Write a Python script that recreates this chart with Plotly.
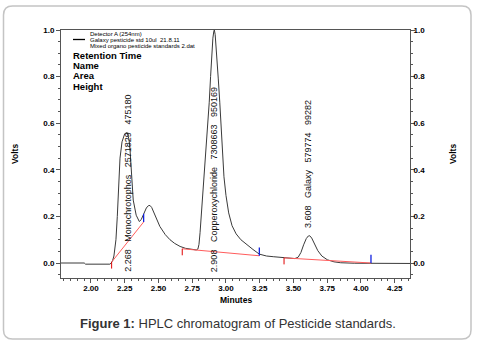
import plotly.graph_objects as go

# ---------------- data ----------------
time_min = [1.778, 1.950, 1.960, 2.140, 2.150, 2.160, 2.170, 2.185, 2.195, 2.205,
            2.215, 2.230, 2.250, 2.268, 2.282, 2.290, 2.296, 2.305, 2.313, 2.335,
            2.358, 2.372, 2.390, 2.410, 2.425, 2.437, 2.450, 2.470, 2.490, 2.510,
            2.550, 2.585, 2.620, 2.660, 2.700, 2.740, 2.780, 2.792, 2.800, 2.808,
            2.817, 2.828, 2.840, 2.852, 2.865, 2.876, 2.886, 2.895, 2.903, 2.910,
            2.914, 2.920, 2.927, 2.933, 2.943, 2.954, 2.963, 2.972, 2.985, 3.000,
            3.020, 3.045, 3.075, 3.110, 3.150, 3.200, 3.247, 3.300, 3.350, 3.420,
            3.470, 3.510, 3.535, 3.555, 3.575, 3.595, 3.610, 3.620, 3.635, 3.655,
            3.680, 3.710, 3.750, 3.800, 3.850, 3.950, 4.070, 4.200, 4.363]
volts = [0.000, 0.000, -0.005, -0.005, 0.000, 0.010, 0.030, 0.100, 0.200, 0.350,
         0.450, 0.520, 0.555, 0.560, 0.530, 0.480, 0.430, 0.340, 0.270, 0.205,
         0.178, 0.186, 0.210, 0.236, 0.246, 0.247, 0.238, 0.212, 0.182, 0.157,
         0.122, 0.100, 0.084, 0.071, 0.063, 0.058, 0.056, 0.060, 0.080, 0.130,
         0.200, 0.300, 0.400, 0.490, 0.600, 0.690, 0.800, 0.900, 0.965, 0.995,
         1.000, 0.980, 0.930, 0.880, 0.790, 0.690, 0.580, 0.470, 0.370, 0.290,
         0.215, 0.160, 0.125, 0.100, 0.080, 0.058, 0.038, 0.030, 0.027, 0.024,
         0.020, 0.019, 0.025, 0.045, 0.078, 0.105, 0.116, 0.117, 0.107, 0.083,
         0.053, 0.030, 0.014, 0.005, 0.001, -0.001, -0.002, -0.002, -0.002]

# integration baselines (start / end of each integrated region)
base_start_t = [2.153, 2.676, 3.430]
base_start_v = [0.004, 0.061, 0.022]
base_end_t = [2.390, 3.247, 4.074]
base_end_v = [0.176, 0.031, 0.000]

# peak table
peak_rt = [2.268, 2.908, 3.608]
peak_name = ["Monochrotophos", "Copperoxychloride", "Galaxy"]
peak_area = [2571829, 7308663, 579774]
peak_height = [475180, 950169, 99282]

x_ticks = [2.00, 2.25, 2.50, 2.75, 3.00, 3.25, 3.50, 3.75, 4.00, 4.25]
y_ticks = [0.0, 0.2, 0.4, 0.6, 0.8, 1.0]

legend_lines = ["Detector A (254nm)", "Galaxy pesticide std 10ul  21.8.11",
                "Mixed organo pesticide standards 2.dat"]
table_rows = ["Retention Time", "Name", "Area", "Height"]

# ---------------- layout geometry (pixels) ----------------
W, H = 480, 347
L, R, T, B = 61, 410, 30, 278
X_RANGE = [1.778, 4.363]
Y_RANGE = [-0.0644, 1.0]


def px(p):
    return (p - L) / (R - L)


def py(p):
    return (B - p) / (B - T)


FONT = "Liberation Sans, Arial, sans-serif"
NB = "\u00a0"

fig = go.Figure()

# chromatogram
fig.add_trace(go.Scatter(x=time_min, y=volts, mode="lines",
                         line=dict(color="#3a3a3a", width=1), hoverinfo="skip",
                         showlegend=False))

# baselines
bx, by = [], []
for t0, v0, t1, v1 in zip(base_start_t, base_start_v, base_end_t, base_end_v):
    bx += [t0, t1, None]
    by += [v0, v1, None]
fig.add_trace(go.Scatter(x=bx, y=by, mode="lines",
                         line=dict(color="#ff5c5c", width=1), showlegend=False,
                         hoverinfo="skip"))

# start ticks (red) and end ticks (blue)
sx, sy, ex, ey = [], [], [], []
for t0, v0 in zip(base_start_t, base_start_v):
    sx += [t0, t0, None]
    sy += [v0, v0 - 0.028, None]
for t1, v1 in zip(base_end_t, base_end_v):
    ex += [t1, t1, None]
    ey += [v1, v1 + 0.035, None]
fig.add_trace(go.Scatter(x=sx, y=sy, mode="lines", line=dict(color="#e00000", width=1),
                         showlegend=False, hoverinfo="skip"))
fig.add_trace(go.Scatter(x=ex, y=ey, mode="lines", line=dict(color="#1020e0", width=1.3),
                         showlegend=False, hoverinfo="skip"))

# invisible trace for right axis
fig.add_trace(go.Scatter(x=[X_RANGE[0]], y=[0], yaxis="y2", mode="markers",
                         marker=dict(opacity=0), showlegend=False, hoverinfo="skip"))

# peak labels (rotated)
label_bottom = [-0.039, -0.039, None]
for i, (rt, nm, ar, ht) in enumerate(zip(peak_rt, peak_name, peak_area, peak_height)):
    txt = (f"{rt:.3f}" + NB * 3 + nm + NB * 3 + f"{ar}" + NB * 3 + f"{ht}")
    yb = label_bottom[i]
    if yb is None:
        yb = max(v for t, v in zip(time_min, volts) if abs(t - rt) < 0.05) + 0.033
    fig.add_annotation(x=rt, y=yb, xref="x", yref="y", text=txt, textangle=-90,
                       showarrow=False, xanchor="center", yanchor="bottom",
                       font=dict(family=FONT, size=9, color="#111"),
                       borderpad=0, borderwidth=0)


def paper_text(xp, yp, text, size, color="#000", angle=0, xanchor="center"):
    fig.add_annotation(x=px(xp), y=py(yp), xref="paper", yref="paper", text=text,
                       textangle=angle, showarrow=False, xanchor=xanchor,
                       yanchor="middle", borderpad=0,
                       font=dict(family=FONT, size=size, color=color))


# table header texts
for k, row in enumerate(table_rows):
    paper_text(72, 55 + k * 10.4, f"<b>{row}</b>", 9.5, xanchor="left")

# legend lines
for k, line in enumerate(legend_lines):
    paper_text(89, 33.5 + k * 6, line, 6, xanchor="left")
fig.add_shape(type="line", xref="paper", yref="paper", x0=px(73), x1=px(85),
              y0=py(39.5), y1=py(39.5), line=dict(color="#000", width=1.3))

# axis titles
paper_text(15, 154, "<b>Volts</b>", 8.5, angle=-90)
paper_text(453, 154, "<b>Volts</b>", 8.5, angle=-90)
paper_text(235.5, 300, "<b>Minutes</b>", 8.5)

# caption
paper_text(237.5, 323, "<b>Figure 1:</b> HPLC chromatogram of Pesticide standards.",
           13, color="#333")

# rounded outer frame
x0, x1, y0, y1, rr = 3.5, 471, 6, 339, 9
pth = (f"M {px(x0 + rr)} {py(y0)} L {px(x1 - rr)} {py(y0)} "
       f"Q {px(x1)} {py(y0)} {px(x1)} {py(y0 + rr)} L {px(x1)} {py(y1 - rr)} "
       f"Q {px(x1)} {py(y1)} {px(x1 - rr)} {py(y1)} L {px(x0 + rr)} {py(y1)} "
       f"Q {px(x0)} {py(y1)} {px(x0)} {py(y1 - rr)} L {px(x0)} {py(y0 + rr)} "
       f"Q {px(x0)} {py(y0)} {px(x0 + rr)} {py(y0)} Z")
fig.add_shape(type="path", path=pth, xref="paper", yref="paper",
              line=dict(color="#c4c4c4", width=1.5), layer="below")

axis_col = "#555"
tickfont = dict(family=FONT, size=8, color="#000", weight="bold")

fig.update_layout(
    width=W, height=H,
    margin=dict(l=L, r=W - R, t=T, b=H - B, pad=0),
    paper_bgcolor="white", plot_bgcolor="white",
    showlegend=False,
    xaxis=dict(range=X_RANGE, tickvals=x_ticks, ticktext=[f"{v:.2f}" for v in x_ticks],
               showgrid=False, zeroline=False, showline=True, linecolor=axis_col,
               linewidth=1, mirror=True, ticks="outside", ticklen=4, tickcolor=axis_col,
               tickfont=tickfont, ticklabelstandoff=-2,
               minor=dict(dtick=0.05, tick0=2.0, ticks="outside", ticklen=2,
                          tickcolor=axis_col)),
    yaxis=dict(range=Y_RANGE, tickvals=y_ticks, ticktext=[f"{v:.1f}" for v in y_ticks],
               showgrid=False, zeroline=False, showline=True, linecolor=axis_col,
               linewidth=1, ticks="outside", ticklen=4, tickcolor=axis_col,
               tickfont=tickfont,
               minor=dict(dtick=0.05, tick0=0, ticks="outside", ticklen=2,
                          tickcolor=axis_col)),
    yaxis2=dict(range=Y_RANGE, overlaying="y", side="right", tickvals=y_ticks,
                ticktext=[f"{v:.1f}" for v in y_ticks], showgrid=False, zeroline=False,
                showline=True, linecolor=axis_col, linewidth=1, ticks="outside",
                ticklen=4, tickcolor=axis_col, tickfont=tickfont, ticklabelstandoff=-3,
                minor=dict(dtick=0.05, tick0=0, ticks="outside", ticklen=2,
                           tickcolor=axis_col)),
)

fig.write_html("out.html", config={"displayModeBar": False},
               post_script="document.body.style.margin='0px';")
